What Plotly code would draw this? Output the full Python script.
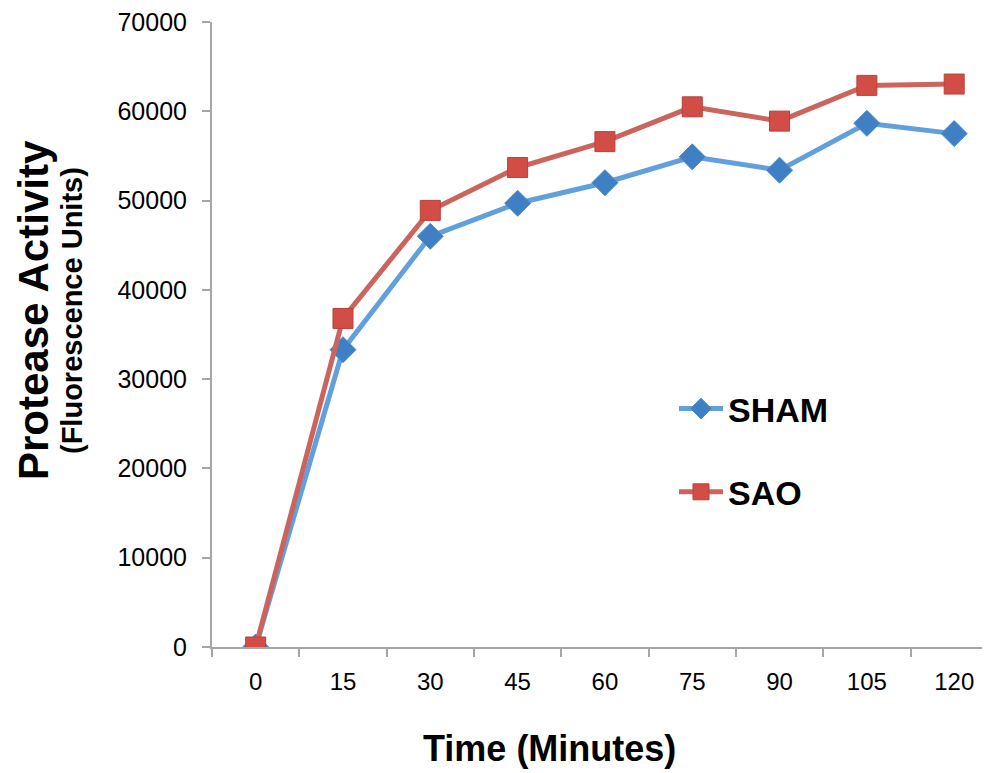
import plotly.graph_objects as go

minutes = ["0", "15", "30", "45", "60", "75", "90", "105", "120"]
sham = [0, 33300, 46000, 49700, 52000, 54900, 53400, 58650, 57500]
sao = [0, 36800, 48900, 53700, 56600, 60500, 58900, 62900, 63050]
y_ticks = [0, 10000, 20000, 30000, 40000, 50000, 60000, 70000]

FONT = "Liberation Sans, Arial, sans-serif"
# the page body adds an 8px offset, so the figure is 8px smaller
W, H = 982, 765
L, R, T, B = 204, 0, 14, 126
PW = W - L - R
PH = H - T - B


def px_x(px):
    return (px - 212) / PW


def px_y(py):
    return (647 - py) / PH


fig = go.Figure()
fig.add_trace(go.Scatter(
    x=minutes, y=sham, name="SHAM", mode="lines+markers", legendgroup="a",
    line=dict(color="#62a0dc", width=5),
    marker=dict(symbol="diamond", size=20, color="#3f80c4",
                line=dict(color="#4a8ad0", width=1)),
))
fig.add_trace(go.Scatter(
    x=minutes, y=sao, name="SAO", mode="lines+markers", legendgroup="b",
    line=dict(color="#cc645e", width=5),
    marker=dict(symbol="square", size=20, color="#d24d45",
                line=dict(color="#b8403a", width=1)),
))

fig.update_layout(
    width=W, height=H,
    margin=dict(l=L, r=R, t=T, b=B),
    paper_bgcolor="white", plot_bgcolor="white",
    font=dict(family=FONT, color="black"),
    showlegend=True,
    legend=dict(
        x=px_x(674), y=px_y(380),
        xanchor="left", yanchor="top",
        font=dict(size=34, family=FONT, color="black", weight="bold"),
        bgcolor="rgba(0,0,0,0)", itemwidth=44, tracegroupgap=36,
    ),
    xaxis=dict(
        type="category", range=[-0.5, 8.41],
        showline=True, linecolor="#a6a6a6", linewidth=2,
        ticks="outside", ticklen=8, tickcolor="#a6a6a6", tickwidth=2,
        tickson="boundaries", showgrid=False, zeroline=False,
        tickfont=dict(size=24, family=FONT, color="black"),
        ticklabelstandoff=12,
    ),
    yaxis=dict(
        range=[0, 70000], tickvals=y_ticks,
        showline=True, linecolor="#a6a6a6", linewidth=2,
        ticks="outside", ticklen=8, tickcolor="#a6a6a6", tickwidth=2,
        showgrid=False, zeroline=False,
        tickfont=dict(size=25, family=FONT, color="black"),
        ticklabelstandoff=10, tickformat="d", ticklabeloverflow="allow",
    ),
    annotations=[
        dict(text="<b>Protease Activity</b>", xref="paper", yref="paper",
             x=px_x(33), y=px_y(310),
             xanchor="center", yanchor="middle", textangle=-90, showarrow=False,
             font=dict(size=42, family=FONT, color="black")),
        dict(text="<b>(Fluorescence Units)</b>", xref="paper", yref="paper",
             x=px_x(72), y=px_y(311),
             xanchor="center", yanchor="middle", textangle=-90, showarrow=False,
             font=dict(size=29, family=FONT, color="black")),
        dict(text="<b>Time (Minutes)</b>", xref="paper", yref="paper",
             x=px_x(549), y=px_y(748),
             xanchor="center", yanchor="middle", showarrow=False,
             font=dict(size=36, family=FONT, color="black")),
    ],
)

fig.write_html("out.html")
